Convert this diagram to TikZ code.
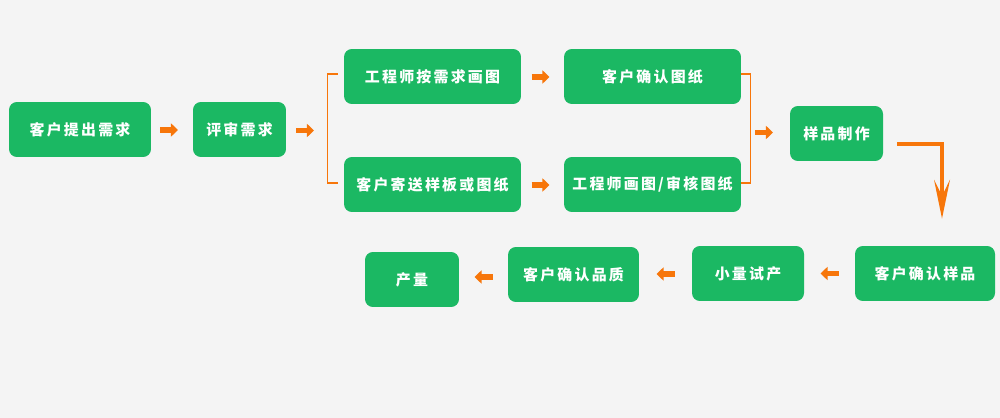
\documentclass[tikz,border=0pt]{standalone}
\usepackage{fontspec}
\newfontfamily\cjk[LetterSpace=15]{Noto Sans CJK SC}
\usetikzlibrary{arrows.meta,calc}
\definecolor{boxgreen}{HTML}{1BB863}
\definecolor{flowor}{HTML}{F7760A}
\definecolor{pagebg}{HTML}{F4F4F4}

\begin{document}
\begin{tikzpicture}[x=0.02cm, y=-0.02cm, box/.style={fill=boxgreen, rounded corners=4.5pt, minimum height=1.1cm, inner sep=0pt, text=white, font=\cjk\bfseries\fontsize{8.5}{10}\selectfont}, oarr/.style={flowor, line width=3.2pt, -{Triangle[length=4pt, width=7.4pt]}}, brk/.style={flowor, line width=0.7pt}, bigarr/.style={flowor, line width=2.3pt, -{Stealth[length=22pt, width=9pt, inset=9pt]}}]
	\fill[pagebg] (0,0) rectangle (1000,418);
	\useasboundingbox (0,0) rectangle (1000,418);
	\node[box, minimum width=2.84cm] (req) at (80,129.5) {客户提出需求};
	\node[box, minimum width=1.86cm] (rev) at (239.5,129.5) {评审需求};
	\node[box, minimum width=3.54cm] (drw) at (432.5,76.5) {工程师按需求画图};
	\node[box, minimum width=3.54cm] (cfd) at (652.5,76.5) {客户确认图纸};
	\node[box, minimum width=3.54cm] (snd) at (432.5,184.5) {客户寄送样板或图纸};
	\node[box, minimum width=3.54cm] (eng) at (652.5,184.5) {工程师画图/审核图纸};
	\node[box, minimum width=1.86cm] (mk) at (836.5,133.5) {样品制作};
	\node[box, minimum width=2.80cm] (cfs) at (925,273.5) {客户确认样品};
	\node[box, minimum width=2.24cm] (trial) at (748,273.5) {小量试产};
	\node[box, minimum width=2.62cm] (cfq) at (573.5,274.5) {客户确认品质};
	\node[box, minimum width=1.88cm] (out) at (412,279.5) {产量};
	% brackets
	\draw[brk] ($(drw.west)+(-6,-2.5)$) -| ($(snd.west)+(-16,-1.5)$) -- ++(10,0);
	\draw[brk] ($(cfd.east)+(0,-2.5)$) -| ($(eng.east)+(9,-1.5)$) -- ++(-9,0);
	\coordinate (lb) at ($(drw.west)!0.5!(snd.west)+(-16,0)$);
	\coordinate (rb) at ($(cfd.east)!0.5!(eng.east)+(9,0)$);
	% small arrows
	\foreach \a/\b/\d in {req/rev/-3, rev/lb/-2, drw/cfd/-2, snd/eng/-2, rb/mk/-6} {\draw[oarr] ($(\a.east)!0.5!(\b.west)+(\d-9,0.5)$) -- ($(\a.east)!0.5!(\b.west)+(\d+9,0.5)$);}
	\foreach \a/\b in {cfs/trial, trial/cfq, cfq/out} {\draw[oarr] ($(\a.west)!0.5!(\b.east)+(9,0)$) -- ($(\a.west)!0.5!(\b.east)+(-9,0)$);}
	\draw[bigarr] ($(mk.east)+(14,10.5)$) -| ($(cfs.north)+(17,-27)$);
\end{tikzpicture}
\end{document}
